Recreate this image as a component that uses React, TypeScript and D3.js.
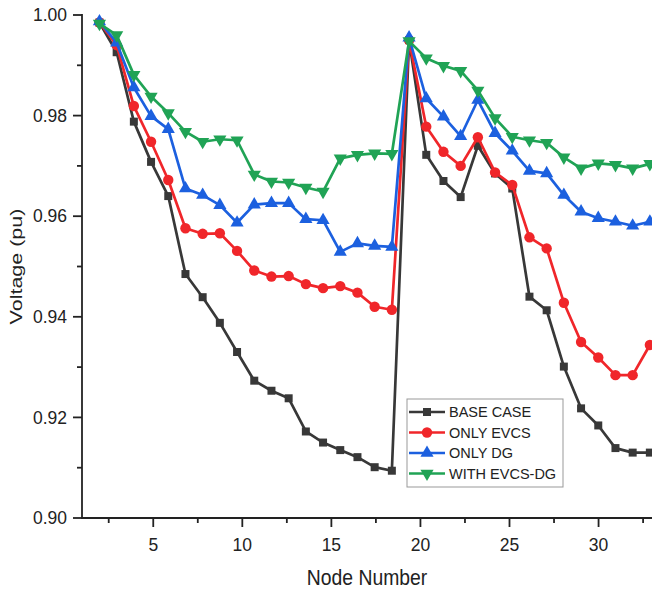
import React from 'react';
import * as d3 from 'd3';

const W = 652
const H = 590
const margin = {top: 15, right: 0, bottom: 72, left: 82}

// node numbers of the 33 bus system
const nodes = d3.range(1, 34)

const baseCase = [0.9985, 0.9926, 0.9788, 0.9708, 0.9640, 0.9485, 0.9439, 0.9388, 0.9330, 0.9273, 0.9253,
  0.9238, 0.9172, 0.9150, 0.9135, 0.9121, 0.9101, 0.9094, 0.9950, 0.9722, 0.9670, 0.9638, 0.9740,
  0.9685, 0.9655, 0.9440, 0.9413, 0.9301, 0.9218, 0.9184, 0.9139, 0.9130, 0.9130]
const onlyEvcs = [0.9985, 0.9940, 0.9819, 0.9748, 0.9672, 0.9576, 0.9565, 0.9566, 0.9531, 0.9492, 0.9480,
  0.9481, 0.9465, 0.9457, 0.9461, 0.9448, 0.9420, 0.9414, 0.9950, 0.9778, 0.9728, 0.9700, 0.9757,
  0.9687, 0.9662, 0.9558, 0.9536, 0.9428, 0.9350, 0.9319, 0.9284, 0.9284, 0.9344]
const onlyDg = [0.9987, 0.9945, 0.9856, 0.9799, 0.9773, 0.9655, 0.9642, 0.9622, 0.9587, 0.9623, 0.9626,
  0.9626, 0.9594, 0.9592, 0.9529, 0.9546, 0.9541, 0.9539, 0.9955, 0.9834, 0.9798, 0.9759, 0.9831,
  0.9765, 0.9730, 0.9690, 0.9685, 0.9642, 0.9609, 0.9596, 0.9589, 0.9581, 0.9589]
const withEvcsDg = [0.9983, 0.9960, 0.9881, 0.9838, 0.9805, 0.9768, 0.9748, 0.9753, 0.9751, 0.9683, 0.9669,
  0.9667, 0.9657, 0.9649, 0.9715, 0.9722, 0.9725, 0.9724, 0.9948, 0.9914, 0.9899, 0.9889, 0.9850,
  0.9795, 0.9758, 0.9751, 0.9746, 0.9717, 0.9695, 0.9705, 0.9702, 0.9695, 0.9704]

const xMajor = [5, 10, 15, 20, 25, 30]
const xMinor = [2.5, 7.5, 12.5, 17.5, 22.5, 27.5, 32.5]
const yMajor = [0.90, 0.92, 0.94, 0.96, 0.98, 1.00]
const yMinor = [0.91, 0.93, 0.95, 0.97, 0.99]

const series = [
  {name: 'BASE CASE', values: baseCase, color: '#383838', symbol: d3.symbolSquare, size: 64, rot: 0},
  {name: 'ONLY EVCS', values: onlyEvcs, color: '#f0262a', symbol: d3.symbolCircle, size: 85, rot: 0},
  {name: 'ONLY DG', values: onlyDg, color: '#1c60df', symbol: d3.symbolTriangle, size: 75, rot: 0},
  {name: 'WITH EVCS-DG', values: withEvcsDg, color: '#20a355', symbol: d3.symbolTriangle, size: 75, rot: 180},
]

const font = 'Arial, "Liberation Sans", sans-serif'

const App = () => {
  const x = d3.scaleLinear().domain([1, 33]).range([margin.left, W - margin.right])
  const y = d3.scaleLinear().domain([0.90, 1.00]).range([H - margin.bottom, margin.top])
  // data points sit slightly off the integer ticks in the original figure
  const nodeX = d3.scaleLinear().domain([1, 33]).range([x(1.98), x(32.88)])

  const line = d3.line<number>()
    .x((d, i) => nodeX(nodes[i]))
    .y(d => y(d))

  const x0 = margin.left
  const yb = H - margin.bottom

  return (
    <svg width={W} height={H} style={{position: 'absolute', left: 0, top: 0, background: '#fff'}}
      fontFamily={font}>
      {/* lines + markers */}
      {series.map(s => (
        <g key={s.name}>
          <path d={line(s.values) || ''} fill='none' stroke={s.color} strokeWidth={2.7} strokeLinejoin='round' />
          {s.values.map((v, i) => (
            <path key={i} d={d3.symbol(s.symbol, s.size)() || ''} fill={s.color}
              transform={`translate(${nodeX(nodes[i])},${y(v)}) rotate(${s.rot})`} />
          ))}
        </g>
      ))}

      {/* axes */}
      <g stroke='#222' strokeWidth={1.8}>
        <line x1={x0} x2={W} y1={yb} y2={yb} />
        <line x1={x0} x2={x0} y1={margin.top - 1} y2={yb + 1} />
        {xMajor.map(t => <line key={t} x1={x(t)} x2={x(t)} y1={yb} y2={yb + 9} />)}
        {xMinor.map(t => <line key={t} x1={x(t)} x2={x(t)} y1={yb} y2={yb + 5} />)}
        {yMajor.map(t => <line key={t} x1={x0 - 9} x2={x0} y1={y(t)} y2={y(t)} />)}
        {yMinor.map(t => <line key={t} x1={x0 - 5} x2={x0} y1={y(t)} y2={y(t)} />)}
      </g>
      <g fontSize={17.5} fill='#222'>
        {xMajor.map(t => (
          <text key={t} x={x(t)} y={yb + 33} textAnchor='middle'>{t}</text>
        ))}
        {yMajor.map(t => (
          <text key={t} x={x0 - 15} y={y(t)} dy='0.35em' textAnchor='end'>{t.toFixed(2)}</text>
        ))}
      </g>
      <text transform={`translate(${(x0 + W) / 2},585) scale(0.88,1)`} textAnchor='middle'
        fontSize={22} fill='#222'>Node Number</text>
      <text transform={`translate(22,${(margin.top + yb) / 2}) rotate(-90) scale(1,0.8)`} textAnchor='middle'
        fontSize={21.5} fill='#222'>Voltage (pu)</text>

      {/* legend */}
      <g transform='translate(407,399)'>
        <rect width={156} height={88} fill='#fff' stroke='#999' strokeWidth={1} />
        {series.map((s, i) => (
          <g key={s.name} transform={`translate(0,${13 + i * 20.5})`}>
            <line x1={2} x2={38} stroke={s.color} strokeWidth={2.7} />
            <path d={d3.symbol(s.symbol, s.size)() || ''} fill={s.color}
              transform={`translate(20,0) rotate(${s.rot})`} />
            <text x={42} dy='0.36em' fontSize={14.5} fill='#222'>{s.name}</text>
          </g>
        ))}
      </g>
    </svg>
  )
}

export default App
